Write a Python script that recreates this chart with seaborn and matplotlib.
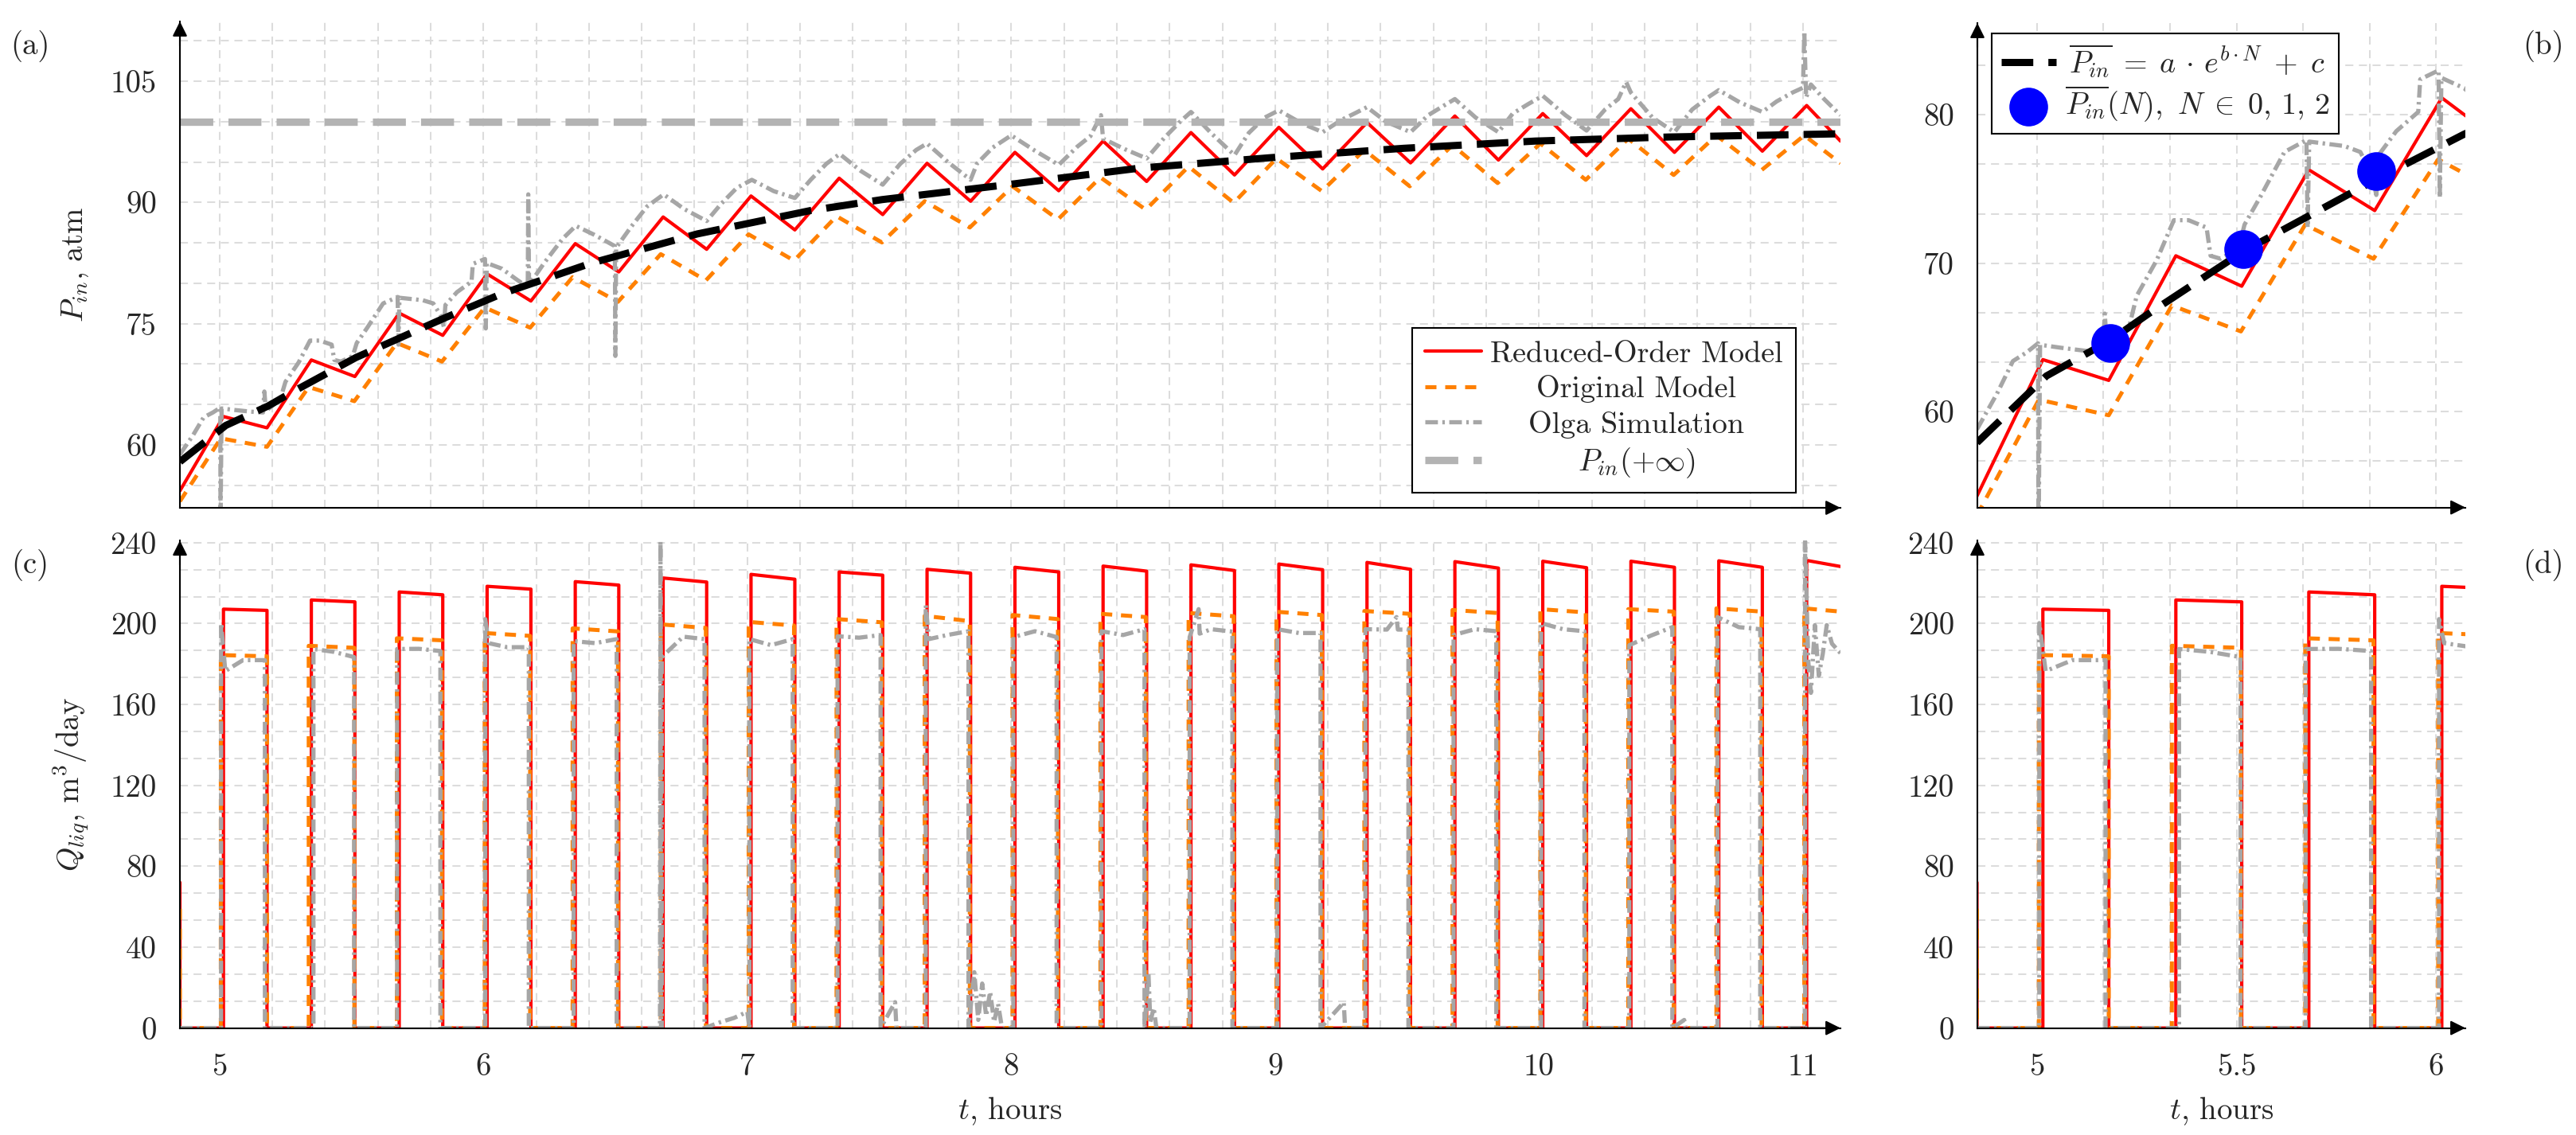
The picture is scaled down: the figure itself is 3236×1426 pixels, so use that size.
import numpy as np
import pandas as pd
import matplotlib
matplotlib.use("Agg")
import matplotlib.pyplot as plt
import seaborn as sns
from matplotlib.ticker import MultipleLocator, FormatStrFormatter
from matplotlib.offsetbox import VPacker

# ---------------- data ----------------
t_start, t_end = 4.85, 11.142
# pump switched on / off (hours), reduced-order model
t_on = [5.015, 5.348, 5.681, 6.014, 6.348, 6.681, 7.014, 7.348, 7.681, 8.014,
        8.348, 8.681, 9.014, 9.348, 9.681, 10.014, 10.348, 10.681, 11.014]
t_off = [5.180, 5.513, 5.846, 6.180, 6.513, 6.846, 7.180, 7.513, 7.846, 8.180,
         8.513, 8.846, 9.180, 9.513, 9.846, 10.180, 10.513, 10.846]
# original model switches a little earlier
orig_on = [5.005, 5.338, 5.672, 6.005, 6.338, 6.672, 7.005, 7.338, 7.672, 8.005,
           8.338, 8.672, 9.005, 9.338, 9.672, 10.005, 10.338, 10.672, 11.005]
orig_off = [5.180, 5.511, 5.843, 6.177, 6.510, 6.843, 7.177, 7.510, 7.843, 8.177,
            8.510, 8.843, 9.177, 9.510, 9.843, 10.177, 10.510, 10.843]
# Olga simulation
olga_on = [5.006, 5.356, 5.673, 6.007, 6.342, 6.676, 7.008, 7.342, 7.676, 8.008,
           8.342, 8.676, 9.008, 9.342, 9.676, 10.008, 10.342, 10.676, 11.008]
olga_off = [5.172, 5.510, 5.837, 6.172, 6.505, 6.838, 7.172, 7.505, 7.838, 8.172,
            8.505, 8.838, 9.172, 9.505, 9.838, 10.172, 10.505, 10.838]

# inlet pressure, atm
red_p_first, red_p_last = 54.3, 97.6
red_p_peak = [63.5, 70.5, 76.3, 81.15, 84.9, 88.2, 90.8, 93.0, 94.85, 96.2,
              97.6, 98.65, 99.3, 99.9, 100.7, 101.0, 101.6, 101.8, 102.0]
red_p_trough = [62.1, 68.45, 73.55, 77.8, 81.4, 84.2, 86.6, 88.5, 90.15, 91.45,
                92.6, 93.4, 94.15, 94.9, 95.25, 95.8, 96.2, 96.35]

orig_p_first, orig_p_last = 53.0, 94.85
orig_p_peak = [60.8, 67.15, 72.6, 77.0, 80.75, 83.6, 86.05, 88.3, 90.15, 92.0,
               93.1, 94.45, 95.45, 96.5, 97.1, 97.3, 97.9, 98.3, 98.3]
orig_p_trough = [59.75, 65.4, 70.3, 74.5, 77.7, 80.35, 82.8, 85.05, 86.9, 87.9,
                 89.1, 89.95, 91.4, 92.0, 92.4, 92.8, 93.4, 94.0]

olga_p_t = [4.850, 4.900, 4.940, 4.975, 5.003, 5.004, 5.008, 5.060, 5.120, 5.165,
            5.170, 5.176, 5.230, 5.250, 5.300, 5.343, 5.380, 5.425, 5.435, 5.460,
            5.505, 5.520, 5.560, 5.620, 5.675, 5.678, 5.682, 5.770, 5.810, 5.840,
            5.850, 5.856, 5.900, 5.955, 5.960, 6.006, 6.009, 6.013, 6.070, 6.120,
            6.168, 6.170, 6.173, 6.230, 6.300, 6.350, 6.420, 6.498, 6.500, 6.503,
            6.560, 6.620, 6.683, 6.760, 6.846, 6.900, 6.960, 7.017, 7.100, 7.180,
            7.240, 7.300, 7.350, 7.430, 7.513, 7.580, 7.640, 7.681, 7.760, 7.846,
            7.870, 7.930, 8.000, 8.090, 8.180, 8.250, 8.300, 8.340, 8.348, 8.430,
            8.513, 8.580, 8.640, 8.681, 8.760, 8.846, 8.900, 8.960, 9.014, 9.100,
            9.180, 9.250, 9.300, 9.348, 9.420, 9.513, 9.580, 9.640, 9.681, 9.760,
            9.846, 9.900, 9.960, 10.014, 10.100, 10.180, 10.250, 10.300, 10.330, 10.348,
            10.430, 10.513, 10.580, 10.640, 10.681, 10.760, 10.846, 10.900, 10.960, 11.000,
            11.005, 11.012, 11.030, 11.080, 11.142]
olga_p_v = [58.8, 61.2, 63.4, 64.0, 64.6, 50.0, 64.5, 64.3, 64.1, 64.0,
            66.6, 64.2, 65.6, 67.8, 70.2, 72.9, 72.9, 72.4, 70.5, 70.3,
            71.0, 72.6, 74.5, 77.5, 78.3, 72.4, 78.2, 77.9, 77.5, 75.9,
            74.6, 77.3, 78.9, 80.2, 82.4, 83.0, 74.4, 82.5, 81.8, 80.6,
            79.5, 91.0, 79.8, 82.5, 85.5, 87.1, 86.0, 84.6, 71.0, 84.4,
            87.0, 89.5, 91.0, 89.2, 87.7, 89.8, 91.8, 92.8, 91.4, 90.55,
            92.8, 94.8, 96.0, 93.9, 92.2, 94.8, 96.5, 97.3, 95.0, 92.8,
            94.8, 96.8, 98.3, 96.4, 94.65, 96.9, 98.2, 100.8, 97.9, 96.6,
            95.45, 98.0, 100.0, 101.2, 98.5, 95.85, 98.6, 100.5, 101.4, 99.8,
            98.7, 100.2, 101.0, 101.8, 100.0, 98.7, 100.8, 102.0, 102.8, 100.5,
            98.7, 101.0, 102.2, 103.2, 100.8, 98.9, 101.5, 102.8, 104.9, 103.6,
            100.5, 98.7, 101.5, 103.0, 103.9, 102.4, 101.2, 102.5, 103.6, 104.2,
            111.2, 103.0, 104.6, 102.8, 100.8]

fit_t = [4.85, 5.024, 5.184, 5.28, 5.517, 5.853, 6.07, 6.41, 6.81, 7.24,
         7.51, 7.986, 8.486, 8.986, 9.486, 9.986, 10.49, 11.142]
fit_v = [57.9, 62.4, 64.8, 66.6, 70.8, 75.7, 78.7, 82.5, 86.1, 89.0,
         90.35, 92.2, 94.25, 95.55, 96.7, 97.6, 98.1, 98.5]
cycle_mean_t = [5.184, 5.517, 5.85]
cycle_mean_v = [64.6, 70.95, 76.2]
p_inf = 100.0

# liquid rate, m3/day
red_q_first = 72.0
red_q_top_a = [207.1, 211.65, 215.6, 218.4, 220.7, 222.5, 224.3, 225.5, 226.8, 227.8,
               228.4, 229.0, 229.4, 230.2, 230.6, 230.8, 230.8, 231.0, 231.2]
red_q_top_b = [206.5, 210.7, 214.2, 217.0, 219.0, 220.5, 221.9, 223.9, 224.9, 225.5,
               225.9, 226.2, 226.6, 226.8, 227.4, 227.6, 227.8, 227.8]
red_q_last = 228.2

orig_q_first = 59.0
orig_q_top_a = [184.4, 189.0, 192.7, 195.3, 197.6, 199.6, 200.8, 202.2, 203.8, 204.2,
                204.8, 205.2, 205.8, 206.2, 206.7, 207.1, 207.1, 207.5, 207.5]
orig_q_top_b = [183.8, 188.0, 191.7, 193.9, 196.1, 197.8, 199.0, 200.6, 201.2, 202.2,
                203.2, 203.6, 204.2, 204.8, 205.2, 205.5, 205.9, 205.9]
orig_q_last = 205.9

olga_q_first = [200.2, 187.4, 187.4, 202.2, 191.3, 183.4, 192.3, 193.7, 209.1, 193.3,
                196.2, 193.3, 197.2, 197.2, 194.3, 200.2, 189.3, 203.2, 240.7]
olga_q_mid = [181.9, 186.0, 187.5, 188.3, 190.3, 193.5, 189.3, 193.0, 194.3, 196.2,
              194.3, 197.2, 195.3, 197.0, 197.2, 197.2, 194.0, 198.2, 185.0]
olga_q_last = [181.9, 183.4, 186.4, 188.3, 192.3, 192.3, 192.3, 194.3, 196.2, 193.3,
               197.2, 196.0, 195.3, 197.0, 196.2, 196.2, 198.2, 197.2, 185.4]
olga_q_extra_t = [5.022, 6.020, 6.669, 6.671, 6.673, 6.90, 6.95, 7.00, 7.56, 7.565,
                  7.688, 7.86, 7.875, 7.89, 7.905, 7.92, 7.935, 7.95, 7.965, 8.52,
                  8.527, 8.54, 8.55, 8.71, 8.714, 9.26, 9.265, 9.46, 9.465, 10.55,
                  10.555, 11.020, 11.030, 11.045, 11.060, 11.090, 11.110]
olga_q_extra_v = [176.5, 190.3, 0.0, 240.7, 0.0, 3.0, 5.0, 8.0, 12.8, 0.0,
                  192.3, 27.6, 4.0, 22.0, 6.0, 18.0, 3.0, 12.0, 0.0, 27.0,
                  3.0, 10.0, 0.0, 207.1, 195.0, 12.7, 0.0, 203.2, 197.0, 4.0,
                  0.0, 181.5, 165.7, 199.2, 174.2, 199.2, 190.0]


# ---------------- build the polylines ----------------
def sawtooth(on, off, first, peaks, troughs, last):
    t, v = [t_start], [first]
    for k in range(len(on)):
        t.append(on[k]); v.append(peaks[k])
        if k < len(off):
            t.append(off[k]); v.append(troughs[k])
    t.append(t_end); v.append(last)
    return pd.DataFrame({"t": t, "v": v})


def pulses(on, off, first, top_a, top_b, last):
    t, v = [t_start, t_start], [first, 0.0]
    for k in range(len(on)):
        t += [on[k], on[k]]; v += [0.0, top_a[k]]
        if k < len(off):
            t += [off[k], off[k]]; v += [top_b[k], 0.0]
    t.append(t_end); v.append(last)
    return pd.DataFrame({"t": t, "v": v})


def olga_pulses():
    pts = [(t_start, 0.0)]
    for k in range(len(olga_on)):
        stop = olga_off[k] if k < len(olga_off) else t_end
        pts += [(olga_on[k], 0.0), (olga_on[k], olga_q_first[k]),
                ((olga_on[k] + stop) / 2, olga_q_mid[k]), (stop, olga_q_last[k])]
        if k < len(olga_off):
            pts.append((stop, 0.0))
    pts += list(zip(olga_q_extra_t, olga_q_extra_v))
    pts.sort(key=lambda p: p[0])
    return pd.DataFrame(pts, columns=["t", "v"])


red_p = sawtooth(t_on, t_off, red_p_first, red_p_peak, red_p_trough, red_p_last)
orig_p = sawtooth(orig_on, orig_off, orig_p_first, orig_p_peak, orig_p_trough, orig_p_last)
olga_p = pd.DataFrame({"t": olga_p_t, "v": olga_p_v})
fit = pd.DataFrame({"t": fit_t, "v": fit_v})
pinf = pd.DataFrame({"t": [t_start, t_end], "v": [p_inf, p_inf]})
red_q = pulses(t_on, t_off, red_q_first, red_q_top_a, red_q_top_b, red_q_last)
orig_q = pulses(orig_on, orig_off, orig_q_first, orig_q_top_a, orig_q_top_b, orig_q_last)
olga_q = olga_pulses()

# ---------------- style ----------------
sns.set_style("white")
plt.rcParams["font.family"] = ["cmr10", "DejaVu Serif"]
plt.rcParams["mathtext.fontset"] = "cm"
plt.rcParams["axes.formatter.use_mathtext"] = True
plt.rcParams["axes.unicode_minus"] = False
FS = 28
FS_LEG = 27.5

RED, ORANGE, OLGA, PINF = "#ff0000", "#ff8000", "#a6a6a6", "#b3b3b3"
st_red = dict(color=RED, linewidth=3.0, linestyle="-")
st_orig = dict(color=ORANGE, linewidth=3.6, linestyle=(0, (2.8, 2.2)))
st_olga = dict(color=OLGA, linewidth=3.8, linestyle=(0, (3.0, 1.05, 0.6, 1.05)))
st_pinf = dict(color=PINF, linewidth=6.7, linestyle=(0, (4.45, 2.05)))
st_fit = dict(color="black", linewidth=6.5, linestyle=(0, (4.4, 2.1)))

W, H = 3237, 1426
fig = plt.figure(figsize=(W / 100, H / 100), dpi=100)


def px_axes(x0, x1, ytop, ybot):
    return fig.add_axes([x0 / W, (H - ybot) / H, (x1 - x0) / W, (ybot - ytop) / H])


ax_a = px_axes(226, 2312, 27, 638)
ax_b = px_axes(2484, 3097, 29, 637.6)
ax_c = px_axes(226, 2312, 679.2, 1291.6)
ax_d = px_axes(2484, 3097, 679.2, 1291.6)


def line(ax, df, st):
    sns.lineplot(data=df, x="t", y="v", ax=ax, estimator=None, sort=False,
                 errorbar=None, **st)
    return ax.lines[-1]


# (a) and (b): pressure
for ax in (ax_a, ax_b):
    h1 = line(ax, red_p, st_red)
    h2 = line(ax, orig_p, st_orig)
    h3 = line(ax, olga_p, st_olga)
    h4 = line(ax, pinf, st_pinf)
    h5 = line(ax, fit, st_fit)
    if ax is ax_a:
        handles_a = [h1, h2, h3, h4]
    else:
        handles_b = [h5]

sns.scatterplot(x=cycle_mean_t, y=cycle_mean_v, ax=ax_b, s=1225, color="#0000ff",
                linewidth=0, zorder=5)
handles_b.append(ax_b.collections[-1])

# (c) and (d): liquid rate
for ax in (ax_c, ax_d):
    line(ax, red_q, st_red)
    line(ax, orig_q, st_orig)
    line(ax, olga_q, st_olga)

# ---------------- axes cosmetics ----------------
limits = {
    ax_a: ((t_start, t_end), (52.2, 112.4), 1, 0.2, 15, 5),
    ax_b: ((4.851, 6.073), (53.53, 86.19), 0.5, 1 / 6, 10, 10 / 3),
    ax_c: ((t_start, t_end), (0, 241), 1, 0.2, 40, 40 / 3),
    ax_d: ((4.851, 6.073), (0, 241), 0.5, 1 / 6, 40, 40 / 3),
}
for ax, (xl, yl, xmaj, xmin, ymaj, ymin) in limits.items():
    ax.set_xlim(*xl)
    ax.set_ylim(*yl)
    ax.xaxis.set_major_locator(MultipleLocator(xmaj))
    ax.xaxis.set_minor_locator(MultipleLocator(xmin))
    ax.yaxis.set_major_locator(MultipleLocator(ymaj))
    ax.yaxis.set_minor_locator(MultipleLocator(ymin))
    ax.xaxis.set_major_formatter(FormatStrFormatter("%g"))
    ax.yaxis.set_major_formatter(FormatStrFormatter("%g"))
    ax.set_axisbelow(True)
    ax.grid(True, which="both", color="#dcdcdc", linewidth=1.45,
            linestyle=(0, (5, 3.5)))
    for s in ("top", "right"):
        ax.spines[s].set_visible(False)
    for s in ("left", "bottom"):
        ax.spines[s].set_linewidth(1.5)
        ax.spines[s].set_color("black")
    ax.tick_params(axis="both", which="major", direction="inout", length=18,
                   width=1.1, color="#7f7f7f", labelsize=FS)
    ax.tick_params(axis="both", which="minor", direction="inout", length=12,
                   width=1.1, color="#7f7f7f")
    ax.tick_params(axis="y", which="major", pad=12)
    ax.tick_params(axis="x", which="major", pad=14)
    ax.set_xlabel("")
    ax.set_ylabel("")
    arrow = dict(arrowstyle="-|>", color="black", lw=1.5, mutation_scale=28,
                 shrinkA=0, shrinkB=0)
    ax.annotate("", xy=(1.0, 0), xytext=(0.97, 0), xycoords="axes fraction",
                arrowprops=arrow, annotation_clip=False)
    ax.annotate("", xy=(0, 1.0), xytext=(0, 0.95), xycoords="axes fraction",
                arrowprops=arrow, annotation_clip=False)

ax_a.tick_params(labelbottom=False)
ax_b.tick_params(labelbottom=False)

ax_a.set_ylabel(r"$P_{in}$, atm", fontsize=FS, labelpad=18)
ax_c.set_ylabel(r"$Q_{liq}$, m$^3$/day", fontsize=FS, labelpad=18)
ax_c.set_xlabel(r"$t$, hours", fontsize=FS, labelpad=12)
ax_d.set_xlabel(r"$t$, hours", fontsize=FS, labelpad=12)

for lab, x, y in (("(a)", 38, 58), ("(b)", 3195, 58), ("(c)", 38, 710), ("(d)", 3195, 710)):
    fig.text(x / W, 1 - y / H, lab, fontsize=FS, ha="center", va="center")

# ---------------- legends ----------------
leg_a = ax_a.legend(handles_a,
                    ["Reduced-Order Model", "Original Model", "Olga Simulation",
                     r"$P_{in}(+\infty)$"],
                    loc="lower right", bbox_to_anchor=(0.973, 0.031), borderaxespad=0,
                    fontsize=FS_LEG, frameon=True, fancybox=False, framealpha=1,
                    edgecolor="black", handlelength=1.85, handletextpad=0.3,
                    labelspacing=0.25, borderpad=0.42)
leg_a.get_frame().set_linewidth(1.5)

leg_b = ax_b.legend(handles_b,
                    [r"$\overline{P_{in}}\;=\;a\,\cdot\,e^{b \cdot N}\;+\;c$",
                     r"$\overline{P_{in}}(N),\ N\;\in\;0,\,1,\,2$"],
                    loc="upper left", bbox_to_anchor=(0.030, 0.979), borderaxespad=0,
                    fontsize=FS_LEG, frameon=True, fancybox=False, framealpha=1,
                    edgecolor="black", handlelength=1.8, handletextpad=0.3,
                    labelspacing=0.15, borderpad=0.3, scatterpoints=1)
leg_b.get_frame().set_linewidth(1.5)
leg_b.set_zorder(10)


def center_texts(leg):
    fig.canvas.draw()
    r = fig.canvas.get_renderer()
    w = max(t.get_window_extent(r).width for t in leg.get_texts())
    for col in leg._legend_handle_box.get_children():
        for row in col.get_children():
            h, t = row.get_children()
            row._children = [h, VPacker(children=[t], width=w, align="center",
                                        pad=0, sep=0)]


center_texts(leg_a)
center_texts(leg_b)

fig.savefig("out.png", dpi=100)
